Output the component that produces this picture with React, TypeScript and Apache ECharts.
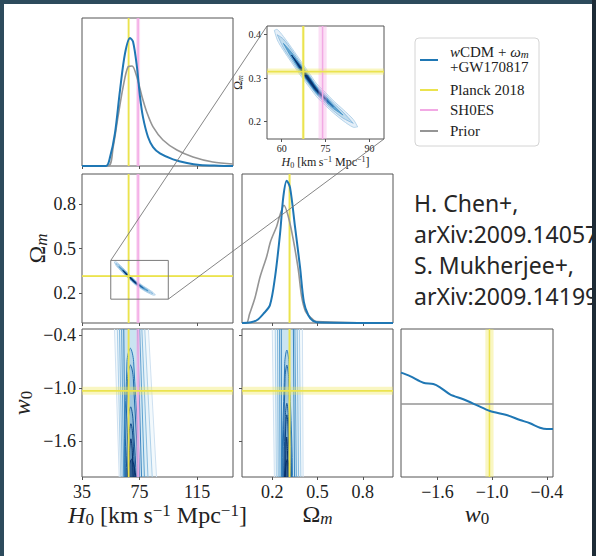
import React, { useEffect, useRef } from "react";
import * as echarts from "echarts";

// ---------------- axes ----------------
const H0_RANGE = [35, 140];
const OM_RANGE = [0, 1];
const W0_RANGE = [-2, -1 / 3];
const PDF_RANGE = [0, 1];
const H0_TICKS = [35, 75, 115];
const OM_TICKS = [0.2, 0.5, 0.8];
const W0_TICKS = [-1.6, -1.0, -0.4];
const INSET_H0_RANGE = [55, 95];
const INSET_OM_RANGE = [0.16, 0.42];
const INSET_H0_TICKS = [60, 75, 90];
const INSET_OM_TICKS = [0.2, 0.3, 0.4];

// ---------------- reference measurements [value, half-width] ----------------
const PLANCK_H0 = [67.4, 0.5];
const PLANCK_OM = [0.315, 0.007];
const PLANCK_W0 = [-1.03, 0.045];
const SHOES_H0 = [74.0, 1.4];

// ---------------- 1D marginals (normalised height) ----------------
const H0_X_BLUE = [35, 51.7, 54.5, 57.9, 61.4, 64.9, 68.4, 70.5, 73.2, 75.3, 77.4, 80.9, 84.4, 89.2, 98.3, 108, 117, 130, 140];
const H0_PDF_BLUE = [0, 0, 0.06, 0.22, 0.51, 0.76, 0.865, 0.84, 0.67, 0.47, 0.33, 0.196, 0.128, 0.085, 0.045, 0.02, 0.007, 0.002, 0];
const H0_X_PRIOR = [35, 53.2, 56.7, 60.0, 63.5, 67.0, 69.8, 73.2, 76.7, 80.2, 84.4, 91.3, 101, 112.2, 126, 140];
const H0_PDF_PRIOR = [0, 0, 0.13, 0.33, 0.53, 0.67, 0.676, 0.6, 0.47, 0.36, 0.264, 0.176, 0.108, 0.061, 0.027, 0.014];

const OM_X_BLUE = [0, 0.06, 0.1, 0.14, 0.185, 0.219, 0.252, 0.274, 0.296, 0.318, 0.351, 0.384, 0.41, 0.44, 0.47, 0.52, 1.0];
const OM_PDF_BLUE = [0, 0.005, 0.02, 0.06, 0.12, 0.31, 0.6, 0.85, 0.955, 0.91, 0.646, 0.378, 0.14, 0.05, 0.015, 0.003, 0];
const OM_X_PRIOR = [0, 0.03, 0.05, 0.086, 0.12, 0.163, 0.19, 0.23, 0.25, 0.278, 0.307, 0.34, 0.373, 0.395, 0.42, 0.45, 0.495, 1.0];
const OM_PDF_PRIOR = [0, 0, 0.06, 0.17, 0.31, 0.445, 0.55, 0.65, 0.72, 0.79, 0.713, 0.557, 0.356, 0.177, 0.08, 0.042, 0.009, 0];

const W0_X_BLUE = [-2.0, -1.901, -1.755, -1.646, -1.572, -1.463, -1.317, -1.171, -1.025, -0.842, -0.695, -0.586, -0.476, -0.4, -0.333];
const W0_PDF_BLUE = [0.705, 0.682, 0.637, 0.628, 0.606, 0.559, 0.525, 0.486, 0.446, 0.419, 0.385, 0.363, 0.333, 0.324, 0.324];
const W0_X_PRIOR = [-2.0, -0.333];
const W0_PDF_PRIOR = [0.493, 0.493];

// ---------------- 2D: H0–Ωm banana (spine + contour half-widths in Ωm) ----------------
const BAN_H0 = [57.5, 58.5, 60.6, 63.4, 66.9, 69.5, 72.0, 75.0, 77.7, 81.0, 84.5, 86.0];
const BAN_OM = [0.41, 0.4, 0.38, 0.353, 0.319, 0.295, 0.272, 0.252, 0.234, 0.215, 0.196, 0.188];
const BAN_HW_1 = [0, 0.012, 0.016, 0.017, 0.017, 0.016, 0.015, 0.015, 0.014, 0.013, 0.009, 0];
const BAN_HW_2 = [0, 0, 0.01, 0.012, 0.012, 0.011, 0.01, 0.01, 0.009, 0.007, 0, 0];
const BAN_HW_3 = [0, 0, 0, 0.006, 0.008, 0.0085, 0.0075, 0.006, 0.004, 0, 0, 0];
const BAN_HW_4 = [0, 0, 0, 0, 0.0055, 0.006, 0.0045, 0.0025, 0, 0, 0, 0];
const BAN_HW_5 = [0, 0, 0, 0, 0.0025, 0.0035, 0.002, 0, 0, 0, 0, 0];

// ---------------- 2D: w0 panels (open contours: [top-left, bottom-left, top-right, bottom-right]) ----------------
const W0H0_OPEN = [
  [57.5, 61.0, 81.0, 87.0],
  [59.5, 62.0, 78.5, 84.0],
  [61.0, 63.0, 76.5, 81.0],
  [62.5, 64.0, 75.0, 78.5],
  [64.0, 65.0, 73.5, 76.5],
];
const W0H0_ARCH_TOP = [-0.55, -0.74, -1.21, -1.4, -1.57, -1.8];
const W0H0_ARCH_MID = [68.6, 68.7, 68.8, 69.0, 69.0, 69.5];
const W0H0_ARCH_HALF = [2.3, 2.0, 1.7, 1.4, 1.0, 2.5];
const W0H0_ARCH_BL = [65.5, 66.0, 66.5, 67.0, 67.5, 66.0];
const W0H0_ARCH_BR = [74.5, 73.5, 72.5, 71.5, 70.5, 75.0];

const W0OM_OPEN = [
  [0.2, 0.215, 0.4, 0.405],
  [0.22, 0.228, 0.38, 0.39],
  [0.235, 0.24, 0.365, 0.375],
  [0.248, 0.252, 0.35, 0.36],
  [0.26, 0.262, 0.34, 0.348],
];
const W0OM_ARCH_TOP = [-0.57, -0.74, -1.17, -1.3, -1.55, -1.8];
const W0OM_ARCH_MID = [0.297, 0.297, 0.297, 0.297, 0.296, 0.3];
const W0OM_ARCH_HALF = [0.014, 0.012, 0.01, 0.008, 0.005, 0.015];
const W0OM_ARCH_BL = [0.272, 0.276, 0.28, 0.284, 0.288, 0.275];
const W0OM_ARCH_BR = [0.33, 0.325, 0.32, 0.315, 0.308, 0.335];

// ---------------- texts ----------------
const H0_NAME = "{i|H}{s|0}{m|\u00a0[km\u2009s}{p|\u22121}{m|\u00a0Mpc}{p|\u22121}{m|]}";
const OM_NAME = "{m|\u03a9}{si|m}";
const W0_NAME = "{i|w}{s|0}";
const LEGEND_FIRST = "{i|w}{m|CDM + }{i|\u03c9}{si|m}\n{m|+GW170817}";
const LEGEND_LABELS = ["Planck 2018", "SH0ES", "Prior"];
const CITATIONS = ["H. Chen+,", "arXiv:2009.14057", "S. Mukherjee+,", "arXiv:2009.14199"];

// ---------------- styles ----------------
const SERIF = '"Liberation Serif", "DejaVu Serif", serif';
const SANS = '"Noto Sans", "Open Sans", sans-serif';
const INK = "#222222";
const FRAME = "#555555";
const BLUE = "#1f77b4";
const GRAY = "#959595";
const YELLOW = "#ebe34e";
const YELLOW_BAND = "rgba(240,232,95,0.38)";
const PINK = "#f2a9e4";
const PINK_BAND = "rgba(244,170,228,0.38)";

const GRIDS = [
  { left: 82, top: 18, width: 151, height: 148 },
  { left: 82, top: 174, width: 151, height: 149 },
  { left: 82, top: 329, width: 151, height: 148 },
  { left: 242, top: 174, width: 151, height: 149 },
  { left: 242, top: 329, width: 151, height: 148 },
  { left: 401, top: 329, width: 152, height: 148 },
  { left: 267, top: 26, width: 117, height: 113 },
];

function fmt(v: number, d: number) {
  return v.toFixed(d).replace("-", "\u2212");
}

function richSet(size: number, lh?: number) {
  const s = Math.round(size * 0.7);
  const base = { fontFamily: SERIF, color: INK };
  const L = lh ?? size + 2;
  return {
    m: { ...base, fontSize: size, lineHeight: L },
    i: { ...base, fontSize: size, lineHeight: L, fontStyle: "italic" },
    s: { ...base, fontSize: s, lineHeight: Math.round(s * 0.9), verticalAlign: "bottom" },
    si: { ...base, fontSize: s, lineHeight: Math.round(s * 0.9), verticalAlign: "bottom", fontStyle: "italic" },
    p: { ...base, fontSize: s, lineHeight: Math.round(s * 0.75), verticalAlign: "top" },
  };
}

function axis(gi: number, range: number[], ticks: number[], o: any = {}) {
  const size = o.size ?? 18;
  const nameSize = o.nameSize ?? 24;
  return {
    type: "value",
    gridIndex: gi,
    min: range[0],
    max: range[1],
    axisLine: { show: false },
    splitLine: { show: false },
    axisTick: {
      show: ticks.length > 0,
      length: o.tickLen ?? 3,
      customValues: ticks,
      lineStyle: { color: FRAME, width: 1 },
    },
    axisLabel: {
      show: !!o.labels,
      customValues: ticks,
      formatter: (v: number) => fmt(v, o.digits ?? 0),
      fontFamily: SERIF,
      fontSize: size,
      color: INK,
      margin: o.margin ?? 6,
    },
    name: o.name ?? "",
    nameLocation: "middle",
    nameGap: o.gap ?? 20,
    nameTextStyle: { fontFamily: SERIF, fontSize: nameSize, color: INK, rich: richSet(nameSize) },
  };
}

type Poly = { pts: number[][]; smooth: number; fill: string; stroke: string; lw: number };

function polySeries(gi: number, polys: Poly[], z: number) {
  return {
    type: "custom",
    xAxisIndex: gi,
    yAxisIndex: gi,
    clip: true,
    silent: true,
    z,
    data: polys.map((_, i) => [i, i]),
    renderItem: (params: any, api: any) => {
      const p = polys[params.dataIndex];
      return {
        type: "polygon",
        shape: { points: p.pts.map((q) => api.coord(q)), smooth: p.smooth },
        style: { fill: p.fill, stroke: p.stroke, lineWidth: p.lw },
      };
    },
  };
}

function bananaPolys(): Poly[] {
  const levels = [BAN_HW_1, BAN_HW_2, BAN_HW_3, BAN_HW_4, BAN_HW_5];
  const fills = ["rgba(198,219,239,0.45)", "rgba(158,202,225,0.5)", "rgba(66,146,198,0.75)", "#1d64a8", "#08306b"];
  const strokes = ["#a6cbe6", "#86b9de", "#4292c6", "#1d64a8", "#08306b"];
  return levels.map((w, k) => {
    const idx = w.map((v, i) => (v > 0 ? i : -1)).filter((i) => i >= 0);
    const f = Math.max(0, idx[0] - 1);
    const l = Math.min(w.length - 1, idx[idx.length - 1] + 1);
    const upper: number[][] = [];
    const lower: number[][] = [];
    for (let i = f; i <= l; i++) {
      upper.push([BAN_H0[i], BAN_OM[i] + w[i]]);
      lower.unshift([BAN_H0[i], BAN_OM[i] - w[i]]);
    }
    return { pts: upper.concat(lower), smooth: 0.3, fill: fills[k], stroke: strokes[k], lw: 0.8 };
  });
}

function w0Polys(open: number[][], top: number[], mid: number[], half: number[], bl: number[], br: number[]): Poly[] {
  const yTop = W0_RANGE[1] + 0.05;
  const yBot = W0_RANGE[0] - 0.05;
  const openStrokes = ["#cfe1f1", "#add0e9", "#88bbde", "#5ea2d1", "#3a86c0"];
  const archStrokes = ["#2b7bba", "#1f66a8", "#175696", "#0d4583", "#08306b", "#08306b"];
  const archFills = [
    "rgba(33,113,181,0.13)",
    "rgba(33,113,181,0.13)",
    "rgba(33,113,181,0.15)",
    "rgba(20,90,160,0.18)",
    "rgba(8,60,120,0.22)",
    "rgba(8,48,107,0.55)",
  ];
  const polys: Poly[] = open.map((c, k) => ({
    pts: [
      [c[0], yTop],
      [c[2], yTop],
      [c[3], yBot],
      [c[1], yBot],
    ],
    smooth: 0,
    fill: "rgba(107,174,214,0.08)",
    stroke: openStrokes[k],
    lw: 1,
  }));
  top.forEach((t, k) => {
    polys.push({
      pts: [
        [bl[k], W0_RANGE[0] - 0.4],
        [mid[k] - half[k], t - 0.15],
        [mid[k], t],
        [mid[k] + half[k], t - 0.15],
        [br[k], W0_RANGE[0] - 0.4],
      ],
      smooth: 0.35,
      fill: archFills[k],
      stroke: archStrokes[k],
      lw: 1,
    });
  });
  return polys;
}

function refLine(gi: number, dir: "v" | "h", m: number[], xr: number[], yr: number[], color: string, band: string, lw: number) {
  const [v, e] = m;
  return [
    {
      type: "custom",
      xAxisIndex: gi,
      yAxisIndex: gi,
      clip: true,
      silent: true,
      z: 3,
      data: [[v, e]],
      renderItem: (_p: any, api: any) => {
        const a = dir === "v" ? api.coord([v - e, yr[0]]) : api.coord([xr[0], v - e]);
        const b = dir === "v" ? api.coord([v + e, yr[1]]) : api.coord([xr[1], v + e]);
        return {
          type: "rect",
          shape: {
            x: Math.min(a[0], b[0]),
            y: Math.min(a[1], b[1]),
            width: Math.abs(b[0] - a[0]),
            height: Math.abs(b[1] - a[1]),
          },
          style: { fill: band },
        };
      },
    },
    {
      type: "line",
      xAxisIndex: gi,
      yAxisIndex: gi,
      silent: true,
      z: 4,
      symbol: "none",
      showSymbol: false,
      data: dir === "v" ? [[v, yr[0]], [v, yr[1]]] : [[xr[0], v], [xr[1], v]],
      lineStyle: { color, width: lw },
    },
  ];
}

function curve(gi: number, xs: number[], ys: number[], color: string, width: number) {
  return {
    type: "line",
    xAxisIndex: gi,
    yAxisIndex: gi,
    silent: true,
    z: 6,
    symbol: "none",
    showSymbol: false,
    smooth: 0.3,
    data: xs.map((x, i) => [x, ys[i]]),
    lineStyle: { color, width },
  };
}

function baseGraphics(): any[] {
  const els: any[] = [];
  els.push({ type: "rect", z: -10, shape: { x: 4, y: 4, width: 588, height: 552 }, style: { fill: "#ffffff" }, silent: true });
  // legend
  const lx = 420;
  const tx = 450;
  els.push({
    type: "rect",
    z: 20,
    shape: { x: 415, y: 38, width: 124, height: 108, r: 4 },
    style: { fill: "#ffffff", stroke: "#d4d4d4", lineWidth: 1 },
  });
  const rows = [60, 90, 110, 131];
  const colors = [BLUE, YELLOW, PINK, GRAY];
  rows.forEach((y, k) => {
    els.push({ type: "line", z: 21, shape: { x1: lx, y1: y, x2: lx + 18, y2: y }, style: { stroke: colors[k], lineWidth: 2 } });
  });
  els.push({
    type: "text",
    z: 21,
    x: tx,
    y: 59.5,
    style: { text: LEGEND_FIRST, rich: richSet(15, 15), verticalAlign: "middle", fontFamily: SERIF, fontSize: 15, lineHeight: 15, fill: INK },
  });
  LEGEND_LABELS.forEach((t, k) => {
    els.push({ type: "text", z: 21, x: tx, y: rows[k + 1], style: { text: t, verticalAlign: "middle", fontFamily: SERIF, fontSize: 15, fill: INK } });
  });
  // citations
  const cy = [203, 233.5, 265, 295.5];
  CITATIONS.forEach((t, k) => {
    els.push({ type: "text", z: 21, x: 414, y: cy[k], style: { text: t, verticalAlign: "middle", fontFamily: SANS, fontSize: 23, fill: "#262626" } });
  });
  // right dark strip of the slide frame (the reference crops the citations here)
  els.push({ type: "rect", z: 100, shape: { x: 592, y: 0, width: 4, height: 556 }, style: { fill: "#1d2b36" }, silent: true });
  return els;
}

function buildOption(): any {
  const box = [
    [INSET_H0_RANGE[0], INSET_OM_RANGE[0]],
    [INSET_H0_RANGE[1], INSET_OM_RANGE[0]],
    [INSET_H0_RANGE[1], INSET_OM_RANGE[1]],
    [INSET_H0_RANGE[0], INSET_OM_RANGE[1]],
    [INSET_H0_RANGE[0], INSET_OM_RANGE[0]],
  ];
  const ban = bananaPolys();
  const series: any[] = [
    // G0 H0 marginal
    ...refLine(0, "v", PLANCK_H0, H0_RANGE, PDF_RANGE, YELLOW, YELLOW_BAND, 1.8),
    ...refLine(0, "v", SHOES_H0, H0_RANGE, PDF_RANGE, PINK, PINK_BAND, 1.5),
    curve(0, H0_X_PRIOR, H0_PDF_PRIOR, GRAY, 1.6),
    curve(0, H0_X_BLUE, H0_PDF_BLUE, BLUE, 2),
    // G1 Ωm–H0
    polySeries(1, ban, 2),
    ...refLine(1, "v", PLANCK_H0, H0_RANGE, OM_RANGE, YELLOW, YELLOW_BAND, 1.8),
    ...refLine(1, "v", SHOES_H0, H0_RANGE, OM_RANGE, PINK, PINK_BAND, 1.5),
    ...refLine(1, "h", PLANCK_OM, H0_RANGE, OM_RANGE, YELLOW, YELLOW_BAND, 1.8),
    {
      type: "line",
      xAxisIndex: 1,
      yAxisIndex: 1,
      silent: true,
      z: 7,
      symbol: "none",
      data: box,
      lineStyle: { color: "#7a7a7a", width: 1 },
    },
    // G2 w0–H0
    polySeries(2, w0Polys(W0H0_OPEN, W0H0_ARCH_TOP, W0H0_ARCH_MID, W0H0_ARCH_HALF, W0H0_ARCH_BL, W0H0_ARCH_BR), 2),
    ...refLine(2, "v", PLANCK_H0, H0_RANGE, W0_RANGE, YELLOW, YELLOW_BAND, 1.8),
    ...refLine(2, "v", SHOES_H0, H0_RANGE, W0_RANGE, PINK, PINK_BAND, 1.5),
    ...refLine(2, "h", PLANCK_W0, H0_RANGE, W0_RANGE, YELLOW, YELLOW_BAND, 1.8),
    // G3 Ωm marginal
    ...refLine(3, "v", PLANCK_OM, OM_RANGE, PDF_RANGE, YELLOW, YELLOW_BAND, 1.8),
    curve(3, OM_X_PRIOR, OM_PDF_PRIOR, GRAY, 1.6),
    curve(3, OM_X_BLUE, OM_PDF_BLUE, BLUE, 2),
    // G4 w0–Ωm
    polySeries(4, w0Polys(W0OM_OPEN, W0OM_ARCH_TOP, W0OM_ARCH_MID, W0OM_ARCH_HALF, W0OM_ARCH_BL, W0OM_ARCH_BR), 2),
    ...refLine(4, "v", PLANCK_OM, OM_RANGE, W0_RANGE, YELLOW, YELLOW_BAND, 1.8),
    ...refLine(4, "h", PLANCK_W0, OM_RANGE, W0_RANGE, YELLOW, YELLOW_BAND, 1.8),
    // G5 w0 marginal
    ...refLine(5, "v", PLANCK_W0, W0_RANGE, PDF_RANGE, YELLOW, YELLOW_BAND, 1.5),
    curve(5, W0_X_PRIOR, W0_PDF_PRIOR, GRAY, 1.6),
    curve(5, W0_X_BLUE, W0_PDF_BLUE, BLUE, 2),
    // G6 inset
    polySeries(6, ban, 2),
    ...refLine(6, "v", PLANCK_H0, INSET_H0_RANGE, INSET_OM_RANGE, YELLOW, YELLOW_BAND, 1.8),
    ...refLine(6, "v", SHOES_H0, INSET_H0_RANGE, INSET_OM_RANGE, PINK, PINK_BAND, 1.5),
    ...refLine(6, "h", PLANCK_OM, INSET_H0_RANGE, INSET_OM_RANGE, YELLOW, YELLOW_BAND, 1.8),
  ];

  return {
    animation: false,
    backgroundColor: "#2d4b5c",
    grid: GRIDS.map((g) => ({ ...g, show: true, borderColor: FRAME, borderWidth: 1, backgroundColor: "rgba(0,0,0,0)" })),
    xAxis: [
      axis(0, H0_RANGE, H0_TICKS),
      axis(1, H0_RANGE, H0_TICKS),
      axis(2, H0_RANGE, H0_TICKS, { labels: true, digits: 0, name: H0_NAME, gap: 15 }),
      axis(3, OM_RANGE, OM_TICKS),
      axis(4, OM_RANGE, OM_TICKS, { labels: true, digits: 1, name: OM_NAME, gap: 15 }),
      axis(5, W0_RANGE, W0_TICKS, { labels: true, digits: 1, name: W0_NAME, gap: 16 }),
      axis(6, INSET_H0_RANGE, INSET_H0_TICKS, { labels: true, digits: 0, size: 10, margin: 4, name: H0_NAME, nameSize: 12, gap: 16 }),
    ],
    yAxis: [
      axis(0, PDF_RANGE, []),
      axis(1, OM_RANGE, OM_TICKS, { labels: true, digits: 1, name: OM_NAME, gap: 32 }),
      axis(2, W0_RANGE, W0_TICKS, { labels: true, digits: 1, name: W0_NAME, gap: 47 }),
      axis(3, PDF_RANGE, []),
      axis(4, W0_RANGE, W0_TICKS),
      axis(5, PDF_RANGE, []),
      axis(6, INSET_OM_RANGE, INSET_OM_TICKS, { labels: true, digits: 1, size: 10, margin: 6, name: OM_NAME, nameSize: 12, gap: 22 }),
    ],
    series,
    graphic: { elements: baseGraphics() },
  };
}

export default function App() {
  const ref = useRef<HTMLDivElement>(null);
  useEffect(() => {
    const chart = echarts.init(ref.current as HTMLDivElement, null, { renderer: "svg" });
    const option = buildOption();
    chart.setOption(option);
    const px = (gi: number, p: number[]) => chart.convertToPixel({ gridIndex: gi } as any, p) as unknown as number[];
    const tl = [INSET_H0_RANGE[0], INSET_OM_RANGE[1]];
    const br = [INSET_H0_RANGE[1], INSET_OM_RANGE[0]];
    const a0 = px(1, tl);
    const a1 = px(6, tl);
    const b0 = px(1, br);
    const b1 = px(6, br);
    const connectors = [
      [a0, a1],
      [b0, b1],
    ]
      .filter((s) => s[0] && s[1])
      .map((s) => ({
        type: "line",
        z: 50,
        silent: true,
        shape: { x1: s[0][0], y1: s[0][1], x2: s[1][0], y2: s[1][1] },
        style: { stroke: "#777777", lineWidth: 0.9 },
      }));
    option.graphic = { elements: [...baseGraphics(), ...connectors] };
    chart.setOption(option, true);
    return () => chart.dispose();
  }, []);
  return <div ref={ref} style={{ position: "fixed", left: 0, top: 0, width: 596, height: 556 }} />;
}
